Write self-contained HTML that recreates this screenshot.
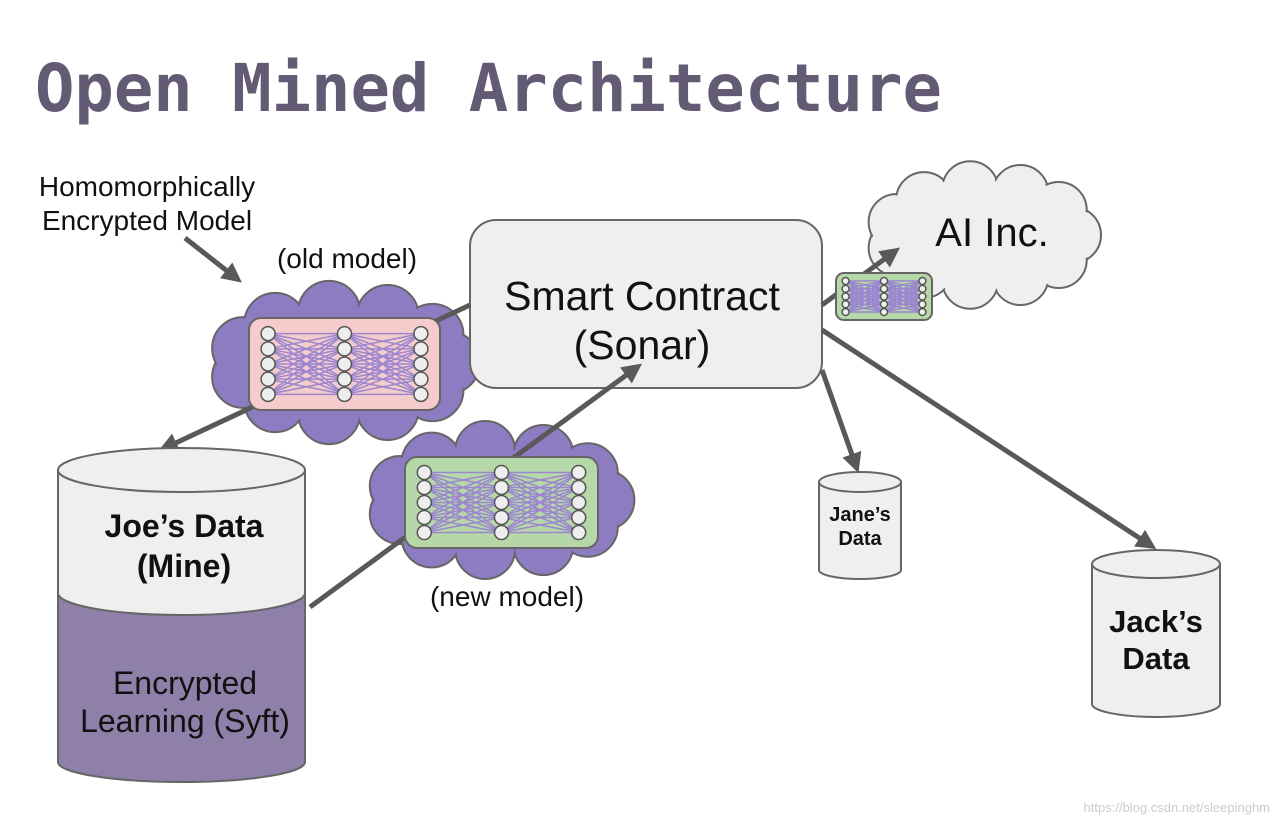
<!DOCTYPE html>
<html><head><meta charset="utf-8"><style>
body{margin:0;background:#fff;width:1280px;height:824px;overflow:hidden}
svg{display:block}
text{font-family:"Liberation Sans",sans-serif}
</style></head><body>
<svg id="s" width="1280" height="824" viewBox="0 0 1280 824" xmlns="http://www.w3.org/2000/svg">
<defs><marker id="ah" markerWidth="4" markerHeight="4" refX="2.5" refY="2" orient="auto" markerUnits="strokeWidth"><path d="M0,0 L4,2 L0,4 z" fill="#595959"/></marker></defs>
<text x="35" y="111" font-weight="bold" font-size="65.5" fill="#635a73" style="font-family:'DejaVu Sans Mono',monospace">Open Mined Architecture</text>
<text x="147" y="196" text-anchor="middle" font-size="28" fill="#111">Homomorphically</text>
<text x="147" y="230" text-anchor="middle" font-size="28" fill="#111">Encrypted Model</text>
<text x="347" y="268" text-anchor="middle" font-size="28" fill="#111">(old model)</text>
<text x="507" y="606" text-anchor="middle" font-size="28" fill="#111">(new model)</text>
<line x1="185" y1="238" x2="236" y2="278" stroke="#595959" stroke-width="5" marker-end="url(#ah)"/>
<g id="clouds"></g>
<rect x="470" y="220" width="352" height="168" rx="26" fill="#efefef" stroke="#666" stroke-width="2"/>
<text x="642" y="310" text-anchor="middle" font-size="41" fill="#111">Smart Contract</text>
<text x="642" y="359" text-anchor="middle" font-size="41" fill="#111">(Sonar)</text>
<line x1="470" y1="305" x2="165" y2="448" stroke="#595959" stroke-width="5" marker-end="url(#ah)"/>
<line x1="310" y1="607" x2="636" y2="368" stroke="#595959" stroke-width="5" marker-end="url(#ah)"/>
<line x1="822" y1="305" x2="894" y2="252" stroke="#595959" stroke-width="5" marker-end="url(#ah)"/>
<line x1="822" y1="370" x2="856" y2="466" stroke="#595959" stroke-width="5" marker-end="url(#ah)"/>
<line x1="822" y1="330" x2="1150" y2="545" stroke="#595959" stroke-width="5" marker-end="url(#ah)"/>
<g id="nets"></g>
<text x="992" y="246" text-anchor="middle" font-size="40" fill="#111">AI Inc.</text>
<path d="M58,470 L58,762 A123.5,20 0 0 0 305,762 L305,470" fill="#8e80a8" stroke="#666" stroke-width="2"/>
<path d="M58,470 L58,593 A123.5,22 0 0 0 305,593 L305,470 z" fill="#efefef" stroke="#666" stroke-width="2"/>
<ellipse cx="181.5" cy="470" rx="123.5" ry="22" fill="#efefef" stroke="#666" stroke-width="2"/>
<text x="184" y="537" text-anchor="middle" font-size="32" font-weight="bold" fill="#111">Joe’s Data</text>
<text x="184" y="577" text-anchor="middle" font-size="32" font-weight="bold" fill="#111">(Mine)</text>
<text x="185" y="694" text-anchor="middle" font-size="32" fill="#111">Encrypted</text>
<text x="185" y="732" text-anchor="middle" font-size="32" fill="#111">Learning (Syft)</text>
<path d="M819,482 L819,570 A41,9 0 0 0 901,570 L901,482" fill="#efefef" stroke="#666" stroke-width="2"/>
<ellipse cx="860" cy="482" rx="41" ry="10" fill="#efefef" stroke="#666" stroke-width="2"/>
<text x="860" y="521" text-anchor="middle" font-size="20" font-weight="bold" fill="#111">Jane’s</text>
<text x="860" y="545" text-anchor="middle" font-size="20" font-weight="bold" fill="#111">Data</text>
<path d="M1092,564 L1092,704 A64,13 0 0 0 1220,704 L1220,564" fill="#efefef" stroke="#666" stroke-width="2"/>
<ellipse cx="1156" cy="564" rx="64" ry="14" fill="#efefef" stroke="#666" stroke-width="2"/>
<text x="1156" y="632" text-anchor="middle" font-size="31" font-weight="bold" fill="#111">Jack’s</text>
<text x="1156" y="669" text-anchor="middle" font-size="31" font-weight="bold" fill="#111">Data</text>
<text x="1270" y="812" text-anchor="end" font-size="13" fill="#ccc">https://blog.csdn.net/sleepinghm</text>
</svg>
<script>
var NS="http://www.w3.org/2000/svg";
function el(p,t,a){var e=document.createElementNS(NS,t);for(var k in a)e.setAttribute(k,a[k]);p.appendChild(e);return e;}
function cloud(g,x,y,w,h,fill){
  var cx=x+w/2,cy=y+h/2,n=11,bs=[];
  for(var i=0;i<n;i++){var a=i/n*2*Math.PI;bs.push([cx+Math.cos(a)*w*0.36,cy+Math.sin(a)*h*0.33,Math.min(w,h)*0.2]);}
  bs.forEach(function(b){el(g,'circle',{cx:b[0],cy:b[1],r:b[2],fill:fill,stroke:'#666','stroke-width':2});});
  bs.forEach(function(b){el(g,'circle',{cx:b[0],cy:b[1],r:b[2]-1.5,fill:fill});});
  el(g,'ellipse',{cx:cx,cy:cy,rx:w*0.36,ry:h*0.33,fill:fill});
}
var C=document.getElementById('clouds');
cloud(C,198,285,292,155,'#8e7cc3');
cloud(C,355,425,290,150,'#8e7cc3');
cloud(C,858,165,250,140,'#efefef');
function net(g,x,y,w,h,fill,r){
  el(g,'rect',{x:x,y:y,width:w,height:h,rx:Math.min(12,h/6),fill:fill,stroke:'#666','stroke-width':2});
  var cols=[x+w*0.1,x+w*0.5,x+w*0.9],rows=[];
  for(var i=0;i<5;i++)rows.push(y+h*0.17+i*h*0.165);
  for(var c=0;c<2;c++)for(var i=0;i<5;i++)for(var j=0;j<5;j++)
    el(g,'line',{x1:cols[c],y1:rows[i],x2:cols[c+1],y2:rows[j],stroke:'#9b86cf','stroke-width':1.5});
  cols.forEach(function(cx){rows.forEach(function(cy){el(g,'circle',{cx:cx,cy:cy,r:r,fill:'#eee',stroke:'#555','stroke-width':1.5});});});
}
var N=document.getElementById('nets');
net(N,249,318,191,92,'#f4cccc',7);
net(N,405,457,193,91,'#b6d7a8',7);
net(N,836,273,96,47,'#b6d7a8',3.5);
</script>
</body></html>
